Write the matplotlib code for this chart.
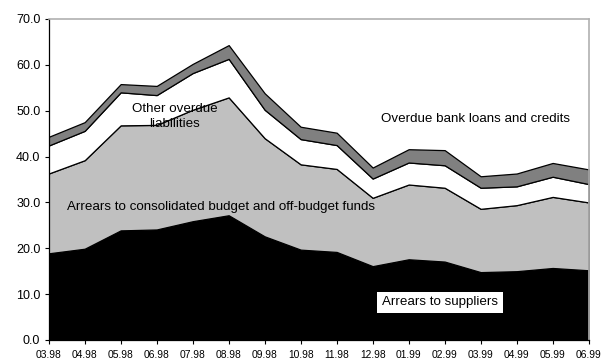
import matplotlib
matplotlib.use("Agg")
import matplotlib.pyplot as plt
import numpy as np

months = ["03.98", "04.98", "05.98", "06.98", "07.98", "08.98", "09.98", "10.98",
          "11.98", "12.98", "01.99", "02.99", "03.99", "04.99", "05.99", "06.99"]
suppliers = [18.9, 19.9, 23.9, 24.1, 25.9, 27.2, 22.6, 19.7,
             19.2, 16.1, 17.6, 17.1, 14.8, 15.0, 15.7, 15.2]
budget_funds = [17.4, 19.3, 22.9, 22.8, 24.3, 25.7, 21.4, 18.6,
                18.1, 14.9, 16.3, 16.1, 13.8, 14.4, 15.5, 14.8]
other_overdue = [6.1, 6.4, 7.2, 6.5, 8.0, 8.4, 6.2, 5.5,
                 5.2, 4.2, 4.8, 4.9, 4.6, 4.1, 4.4, 4.0]
bank_loans = [1.9, 1.9, 1.8, 2.0, 2.0, 3.0, 3.6, 2.7,
              2.7, 2.4, 2.9, 3.3, 2.5, 2.8, 3.0, 3.2]
y_ticks = [0, 10, 20, 30, 40, 50, 60, 70]

plt.rcParams["font.family"] = ["Liberation Sans", "DejaVu Sans"]

fig = plt.figure(figsize=(6.04, 3.60), dpi=100)
ax = fig.add_axes([0.0806, 0.0556, 0.894, 0.8917])

x = np.arange(len(months))
ax.stackplot(x, suppliers, budget_funds, other_overdue, bank_loans,
             colors=["#000000", "#c0c0c0", "#ffffff", "#808080"],
             edgecolor="black", linewidth=0.9)

ax.set_xlim(0, len(months) - 1)
ax.set_ylim(0, 70)
ax.set_yticks(y_ticks)
ax.set_yticklabels([f"{v:.1f}" for v in y_ticks], fontsize=9)
ax.set_xticks(x)
ax.set_xticklabels(months, fontsize=7.4)
ax.tick_params(axis="y", direction="out", length=3, width=0.8, color="black", pad=3)
ax.tick_params(axis="x", direction="out", length=3, width=0.8, color="black", pad=4)

for side in ("left", "bottom"):
    ax.spines[side].set_color("black")
    ax.spines[side].set_linewidth(0.9)
for side in ("top", "right"):
    ax.spines[side].set_color("#b0b0b0")
    ax.spines[side].set_linewidth(1.2)

label_size = 9.6
ax.text(3.5, 48.7, "Other overdue\nliabilities", fontsize=label_size, ha="center",
        va="center", linespacing=1.3)
ax.text(0.5, 28.9, "Arrears to consolidated budget and off-budget funds",
        fontsize=label_size, ha="left", va="center")
ax.text(9.23, 48.1, "Overdue bank loans and credits", fontsize=label_size,
        ha="left", va="center")
ax.text(10.87, 8.2, "Arrears to suppliers", fontsize=label_size, ha="center",
        va="center", bbox=dict(facecolor="white", edgecolor="none", pad=3.5))

fig.savefig("out.png", dpi=100)
